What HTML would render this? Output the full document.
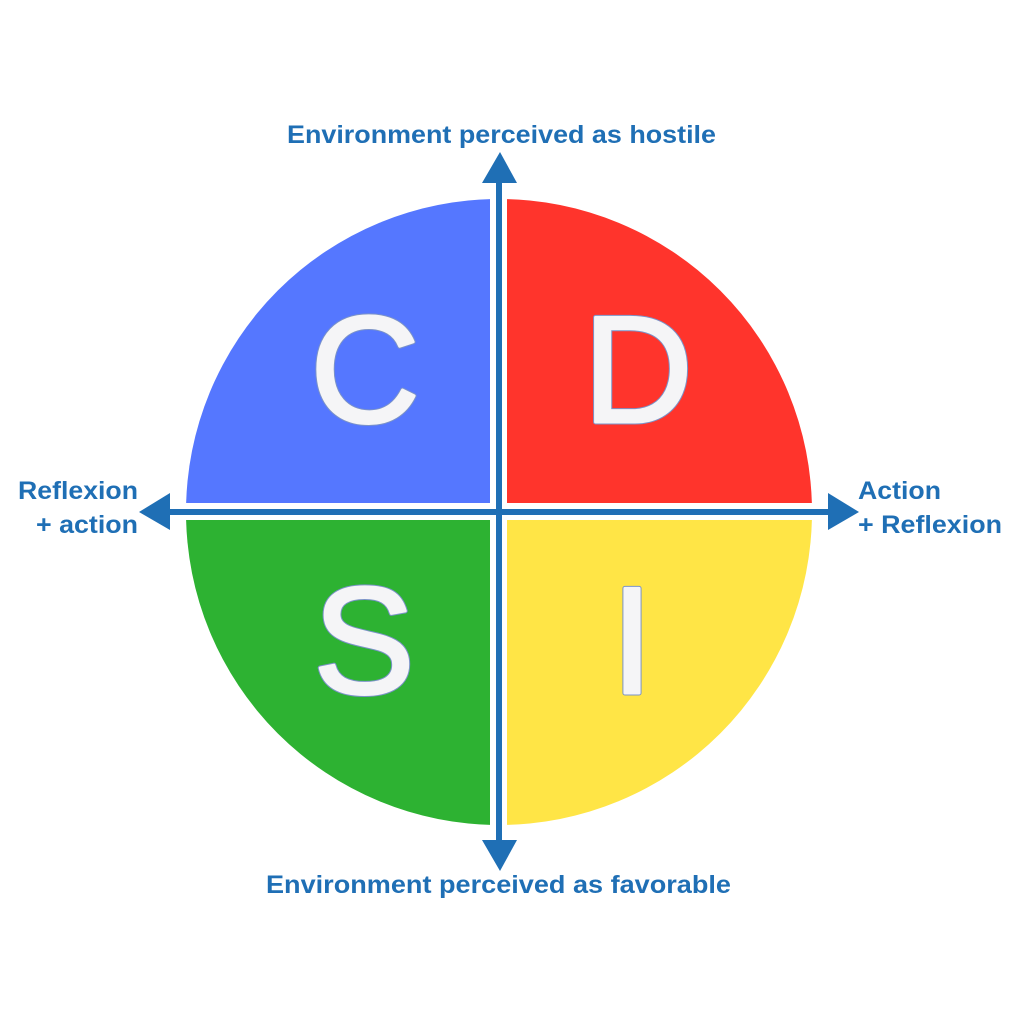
<!DOCTYPE html>
<html><head><meta charset="utf-8"><style>html,body{margin:0;padding:0;background:#fff}</style></head>
<body>
<svg width="1024" height="1024" viewBox="0 0 1024 1024" xmlns="http://www.w3.org/2000/svg">
<defs>
<clipPath id="q1"><rect x="0" y="0" width="490" height="503"/></clipPath>
<clipPath id="q2"><rect x="507" y="0" width="600" height="503"/></clipPath>
<clipPath id="q3"><rect x="0" y="520" width="490" height="600"/></clipPath>
<clipPath id="q4"><rect x="507" y="520" width="600" height="600"/></clipPath>
</defs>
<circle cx="499" cy="512" r="313" fill="#5577ff" clip-path="url(#q1)"/>
<circle cx="499" cy="512" r="313" fill="#ff342c" clip-path="url(#q2)"/>
<circle cx="499" cy="512" r="313" fill="#2db232" clip-path="url(#q3)"/>
<circle cx="499" cy="512" r="313" fill="#ffe546" clip-path="url(#q4)"/>
<g font-family="Liberation Sans, Arial, sans-serif" font-size="152" fill="#f5f5f7" stroke="#7b93c8" stroke-width="5" stroke-linejoin="round" text-anchor="middle">
<text x="365" y="422">C</text>
<text x="638" y="422">D</text>
<text x="364" y="693">S</text>
<text x="632" y="693">I</text>
</g>
<g font-family="Liberation Sans, Arial, sans-serif" font-size="152" fill="#f5f5f7" stroke="#f5f5f7" stroke-width="3" stroke-linejoin="round" text-anchor="middle">
<text x="365" y="422">C</text>
<text x="638" y="422">D</text>
<text x="364" y="693">S</text>
<text x="632" y="693">I</text>
</g>
<g fill="#1f6fb5" stroke="none">
<rect x="496" y="180" width="6" height="665"/>
<rect x="165" y="509" width="670" height="6"/>
<polygon points="500,152 482,183 517,183"/>
<polygon points="500,871 482,840 517,840"/>
<polygon points="139,512 170,493 170,530"/>
<polygon points="859,512 828,493 828,530"/>
</g>
<g font-family="Liberation Sans, Arial, sans-serif" font-weight="bold" font-size="25" fill="#1f6fb5">
<text x="287" y="143" textLength="429" lengthAdjust="spacingAndGlyphs">Environment perceived as hostile</text>
<text x="266" y="893" textLength="465" lengthAdjust="spacingAndGlyphs">Environment perceived as favorable</text>
<text x="18" y="499" textLength="120" lengthAdjust="spacingAndGlyphs">Reflexion</text>
<text x="36" y="533" textLength="102" lengthAdjust="spacingAndGlyphs">+ action</text>
<text x="858" y="499" textLength="83" lengthAdjust="spacingAndGlyphs">Action</text>
<text x="858" y="533" textLength="144" lengthAdjust="spacingAndGlyphs">+ Reflexion</text>
</g>
</svg>
</body></html>
